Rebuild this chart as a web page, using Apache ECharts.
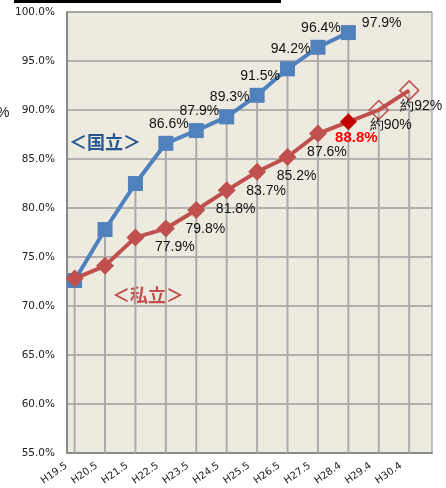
<!DOCTYPE html>
<html>
<head>
<meta charset="utf-8">
<script src="https://cdn.jsdelivr.net/npm/echarts@6/dist/echarts.min.js"></script>
<style>
  html, body { margin: 0; padding: 0; background: #fff; }
  #chart { width: 446px; height: 488px; }
</style>
</head>
<body>
<div id="chart"></div>
<script>
var periods = ['H19.5', 'H20.5', 'H21.5', 'H22.5', 'H23.5', 'H24.5', 'H25.5', 'H26.5', 'H27.5', 'H28.4', 'H29.4', 'H30.4'];
var kokuritsu = [72.6, 77.8, 82.5, 86.6, 87.9, 89.3, 91.5, 94.2, 96.4, 97.9];
var shiritsu = [72.8, 74.1, 77.0, 77.9, 79.8, 81.8, 83.7, 85.2, 87.6, 88.8, 90.0, 92.0];
var kokuritsuLabels = ['', '', '', '86.6%', '87.9%', '89.3%', '91.5%', '94.2%', '96.4%', '97.9%'];
var shiritsuLabels = ['', '', '', '77.9%', '79.8%', '81.8%', '83.7%', '85.2%', '87.6%', '88.8%', '約90%', '約92%'];
var yTicks = [55, 60, 65, 70, 75, 80, 85, 90, 95, 100];

var blue = '#4F81BD';
var red = '#C0504D';
var grid = '#9C9C9C';
var labelFont = 'Liberation Sans, Arial, sans-serif';

(function() {
  var chart = echarts.init(document.getElementById('chart'), null, { renderer: 'canvas' });

  // two slots per period: the reference puts each point in the first half
  var cats = [];
  periods.forEach(function(p) { cats.push(p); cats.push(p + '_'); });

  var dropData = periods.map(function(p, i) {
    var a = kokuritsu[i] == null ? -Infinity : kokuritsu[i];
    return [2 * i, Math.max(a, shiritsu[i])];
  });

  var blueData = kokuritsu.map(function(v, i) {
    var d = { value: [2 * i, v] };
    if (!kokuritsuLabels[i]) {
      d.label = { show: false };
    } else if (i === kokuritsu.length - 1) {
      d.label = { position: 'right', distance: 6, offset: [0, -9] };
    }
    return d;
  });

  var redData = shiritsu.map(function(v, i) {
    var d = { value: [2 * i, v] };
    if (!shiritsuLabels[i]) d.label = { show: false };
    if (i === 9) {
      d.itemStyle = { color: '#C00000' };
      d.symbolSize = 17;
      d.label = { color: '#FF0000', fontWeight: 'bold', fontSize: 15, offset: [8, -3] };
    }
    if (i >= 10) {
      d.itemStyle = { color: 'rgba(0,0,0,0)', borderColor: red, borderWidth: 1.5 };
      d.symbolSize = 19;
      d.label = { offset: [12, -5] };
    }
    return d;
  });

  chart.setOption({
    animation: false,
    backgroundColor: '#fff',
    grid: {
      left: 67, right: 14, top: 12, bottom: 35,
      show: true,
      backgroundColor: '#EDEBE0',
      borderColor: '#8A8A8A',
      borderWidth: 1
    },
    xAxis: {
      type: 'category',
      data: cats,
      boundaryGap: true,
      axisLine: { lineStyle: { color: '#8A8A8A', width: 2 } },
      axisTick: { interval: 0, length: 4, lineStyle: { color: '#8A8A8A', width: 1.5 } },
      axisLabel: {
        interval: 0,
        rotate: 35,
        margin: 6,
        padding: [0, 10, 0, 0],
        fontSize: 10,
        color: '#222',
        fontFamily: 'DejaVu Sans, sans-serif',
        formatter: function(v, i) { return i % 2 ? '' : v; }
      },
      splitLine: { show: false }
    },
    yAxis: {
      type: 'value',
      min: yTicks[0],
      max: yTicks[yTicks.length - 1],
      interval: 5,
      axisLine: { show: true, lineStyle: { color: '#8A8A8A', width: 2 } },
      axisTick: { show: false },
      axisLabel: {
        margin: 12,
        fontSize: 10.5,
        color: '#222',
        fontFamily: 'DejaVu Sans, sans-serif',
        formatter: function(v) { return v.toFixed(1) + '%'; }
      },
      splitLine: { lineStyle: { color: grid, width: 1.5 } }
    },
    series: [
      {
        // Excel-style drop lines
        type: 'bar',
        data: dropData,
        barWidth: 2,
        itemStyle: { color: '#ABABAB' },
        silent: true,
        z: 1
      },
      {
        name: '国立',
        type: 'line',
        data: blueData,
        symbol: 'rect',
        symbolSize: 15,
        lineStyle: { color: blue, width: 4 },
        itemStyle: { color: blue },
        label: {
          show: true,
          position: 'top',
          distance: 5,
          offset: [3, 0],
          formatter: function(p) { return kokuritsuLabels[p.dataIndex]; },
          color: '#111',
          fontSize: 14,
          fontFamily: labelFont
        },
        z: 3
      },
      {
        name: '私立',
        type: 'line',
        data: redData,
        symbol: 'diamond',
        symbolSize: 18,
        lineStyle: { color: red, width: 4 },
        itemStyle: { color: red },
        label: {
          show: true,
          position: 'bottom',
          distance: 3,
          offset: [9, 0],
          formatter: function(p) { return shiritsuLabels[p.dataIndex]; },
          color: '#111',
          fontSize: 14,
          fontFamily: labelFont
        },
        z: 4
      }
    ],
    graphic: [
      { type: 'rect', left: 14, top: 0, shape: { width: 267, height: 3 }, style: { fill: '#000' } },
      { type: 'text', left: -3, top: 106, style: { text: '%', fontSize: 14, fill: '#222', fontFamily: labelFont } },
      { type: 'text', left: 69, top: 133, style: { text: '＜国立＞', fontSize: 18, fontWeight: 'bold', fill: '#255690', fontFamily: 'Noto Sans CJK JP' } },
      { type: 'text', left: 112, top: 286, style: { text: '＜私立＞', fontSize: 18, fontWeight: 'bold', fill: red, fontFamily: 'Noto Sans CJK JP' } }
    ]
  });
  window.addEventListener('resize', function() { chart.resize(); });
})();
</script>
</body>
</html>
